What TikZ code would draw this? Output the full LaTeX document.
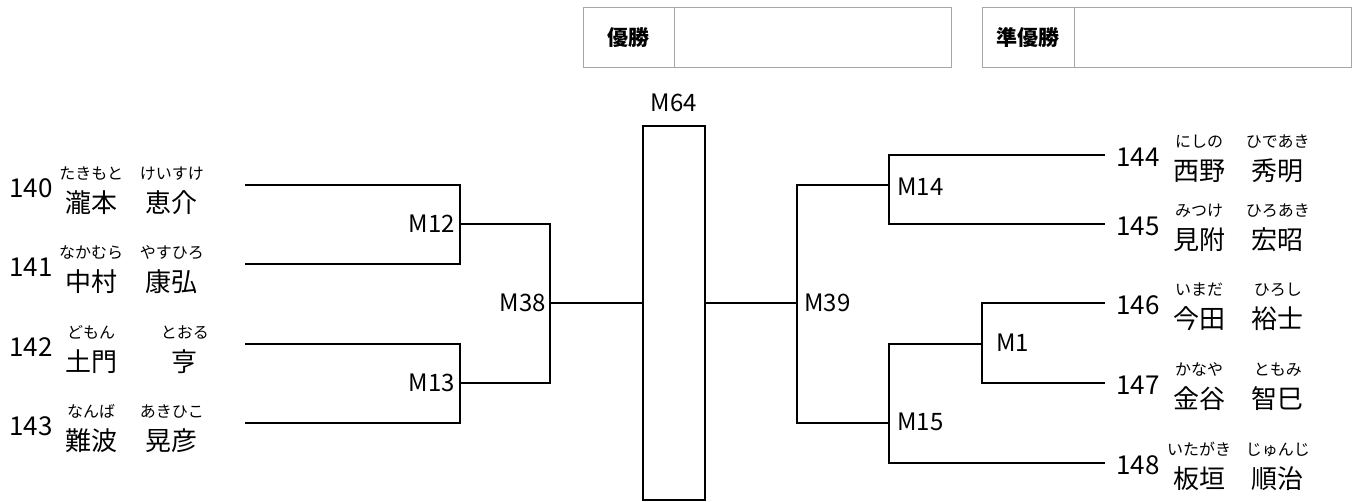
\documentclass[tikz,border=0pt]{standalone}
\usepackage{fontspec}
\setmainfont{Noto Sans CJK JP}
\usetikzlibrary{positioning}
\tikzset{
	x=1pt, y=1pt, % one unit is one pixel of the sheet, y is negative downwards
	bracket/.style={line width=2pt}, % the lines of the draw
	cell/.style={draw=gray!70, line width=1pt, minimum height=60pt, inner sep=0pt, outer sep=0pt},
	num/.style={font=\fontsize{26}{26}\selectfont, inner sep=0pt, text height=18.7pt, text depth=0pt},
	kanji/.style={font=\fontsize{26}{26}\selectfont, inner sep=0pt, text height=22.9pt, text depth=3.1pt},
	yomi/.style={font=\fontsize{16}{16}\selectfont, inner sep=0pt, text height=14.1pt, text depth=1.9pt},
	match/.style={font=\fontsize{24}{24}\selectfont, inner sep=0pt, text height=17.3pt, text depth=0pt},
}

\begin{document}
\begin{tikzpicture}
	\useasboundingbox (0,0) rectangle (1357,-502);

	% result boxes
	\node[cell, minimum width=91pt, font=\bfseries\fontsize{21}{21}\selectfont] (yusho) at (628.5,-38) {優勝};
	\node[cell, minimum width=277pt, right=0pt of yusho] (yushoname) {};
	\node[cell, minimum width=92pt, font=\bfseries\fontsize{21}{21}\selectfont] (junyusho) at (1028,-38) {準優勝};
	\node[cell, minimum width=277pt, right=0pt of junyusho] (junyushoname) {};

	% left players
	\node[num, anchor=west] (n140) at (9,-188) {140};
	\node[kanji, anchor=west] (f140) at (65,-203) {瀧本};
	\node[kanji, anchor=east] (g140) at (198,-203) {恵介};
	\node[yomi, above=8pt of f140] (rf140) {たきもと};
	\node[yomi, above=8pt of g140] (rg140) {けいすけ};

	\node[num, anchor=west] (n141) at (9,-267) {141};
	\node[kanji, anchor=west] (f141) at (65,-282) {中村};
	\node[kanji, anchor=east] (g141) at (198,-282) {康弘};
	\node[yomi, above=8pt of f141] (rf141) {なかむら};
	\node[yomi, above=8pt of g141] (rg141) {やすひろ};

	\node[num, anchor=west] (n142) at (9,-347) {142};
	\node[kanji, anchor=west] (f142) at (65,-362) {土門};
	\node[kanji, anchor=east] (g142) at (198,-362) {亨};
	\node[yomi, above=8pt of f142] (rf142) {どもん};
	\node[yomi, above=8pt of g142] (rg142) {とおる};

	\node[num, anchor=west] (n143) at (9,-426) {143};
	\node[kanji, anchor=west] (f143) at (65,-441) {難波};
	\node[kanji, anchor=east] (g143) at (198,-441) {晃彦};
	\node[yomi, above=8pt of f143] (rf143) {なんば};
	\node[yomi, above=8pt of g143] (rg143) {あきひこ};

	% right players
	\node[num, anchor=west] (n144) at (1116,-157) {144};
	\node[kanji, anchor=west] (f144) at (1173,-171) {西野};
	\node[kanji, anchor=east] (g144) at (1304,-171) {秀明};
	\node[yomi, above=8pt of f144] (rf144) {にしの};
	\node[yomi, above=8pt of g144] (rg144) {ひであき};

	\node[num, anchor=west] (n145) at (1116,-226) {145};
	\node[kanji, anchor=west] (f145) at (1173,-240) {見附};
	\node[kanji, anchor=east] (g145) at (1304,-240) {宏昭};
	\node[yomi, above=8pt of f145] (rf145) {みつけ};
	\node[yomi, above=8pt of g145] (rg145) {ひろあき};

	\node[num, anchor=west] (n146) at (1116,-305) {146};
	\node[kanji, anchor=west] (f146) at (1173,-319) {今田};
	\node[kanji, anchor=east] (g146) at (1304,-319) {裕士};
	\node[yomi, above=8pt of f146] (rf146) {いまだ};
	\node[yomi, above=8pt of g146] (rg146) {ひろし};

	\node[num, anchor=west] (n147) at (1116,-385) {147};
	\node[kanji, anchor=west] (f147) at (1173,-399) {金谷};
	\node[kanji, anchor=east] (g147) at (1304,-399) {智巳};
	\node[yomi, above=8pt of f147] (rf147) {かなや};
	\node[yomi, above=8pt of g147] (rg147) {ともみ};

	\node[num, anchor=west] (n148) at (1116,-465) {148};
	\node[kanji, anchor=west] (f148) at (1173,-479) {板垣};
	\node[kanji, anchor=east] (g148) at (1304,-479) {順治};
	\node[yomi, above=8pt of f148] (rf148) {いたがき};
	\node[yomi, above=8pt of g148] (rg148) {じゅんじ};

	% line ends and junctions
	\coordinate (e140) at (245,-185);
	\coordinate (e141) at (245,-264);
	\coordinate (e142) at (245,-344);
	\coordinate (e143) at (245,-423);
	\coordinate (e144) at (1105,-155);
	\coordinate (e145) at (1105,-224);
	\coordinate (e146) at (1105,-303);
	\coordinate (e147) at (1105,-383);
	\coordinate (e148) at (1105,-463);
	\coordinate (j12) at (460,-224);
	\coordinate (j13) at (460,-383);
	\coordinate (j38) at (550,-303);
	\coordinate (j39) at (797,-303);
	\coordinate (j14) at (889,-185);
	\coordinate (j15) at (889,-423);
	\coordinate (j1) at (982,-344);

	% final
	\node[draw, line width=2pt, minimum width=62pt, minimum height=374pt, inner sep=0pt] (final) at (674,-313) {};
	\node[match] (m64) at (674,-103) {M64};

	% match labels
	\node[match, anchor=east] (m12) at (455,-224) {M12};
	\node[match, anchor=east] (m13) at (455,-383) {M13};
	\node[match, anchor=east] (m38) at (546,-303) {M38};
	\node[match, anchor=west] (m39) at (804,-303) {M39};
	\node[match, anchor=west] (m14) at (897,-187) {M14};
	\node[match, anchor=west] (m15) at (897,-422) {M15};
	\node[match, anchor=west] (m1) at (996,-343) {M1};

	\draw[bracket] (e140) -| (j12) |- (e141)
		(e142) -| (j13) |- (e143)
		(j12) -| (j38) |- (j13)
		(j38) -- (final.west |- j38);
	\draw[bracket] (final.east |- j39) -- (j39)
		(j14) -| (j39) |- (j15)
		(e144) -| (j14) |- (e145)
		(j1) -| (j15) |- (e148)
		(e146) -| (j1) |- (e147);
\end{tikzpicture}
\end{document}
